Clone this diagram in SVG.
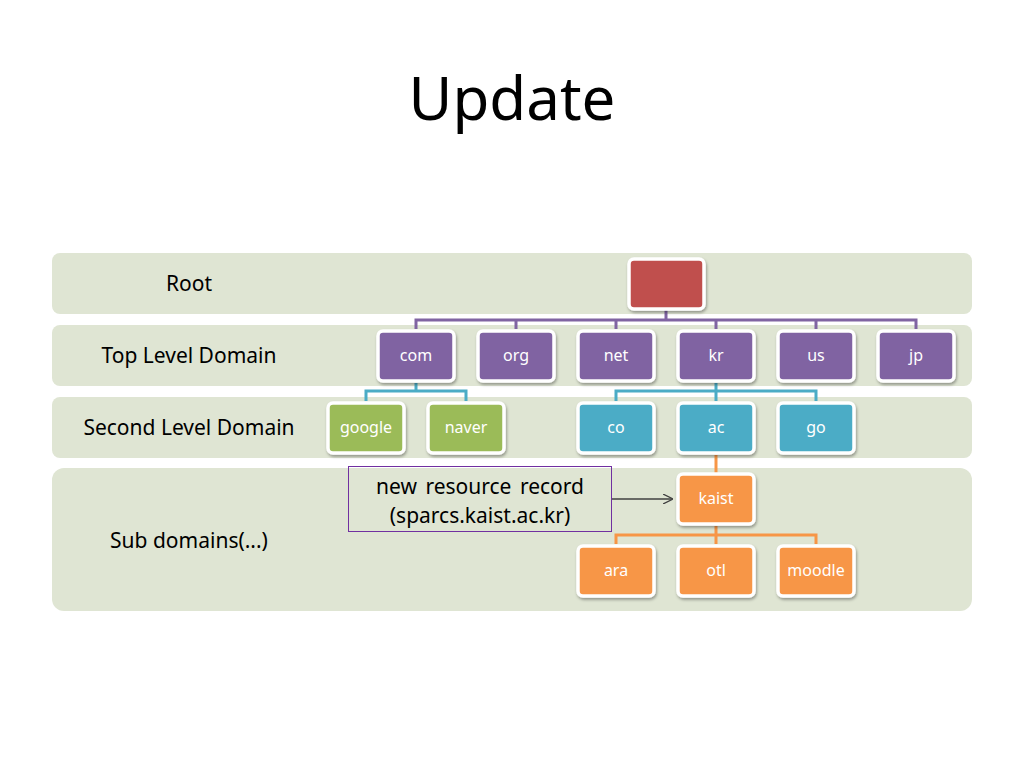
<svg xmlns="http://www.w3.org/2000/svg" width="1024" height="768" viewBox="0 0 1024 768">
<defs>
<filter id="sh" x="-20%" y="-20%" width="140%" height="150%">
<feDropShadow dx="1" dy="2" stdDeviation="1.5" flood-color="#000" flood-opacity="0.35"/>
</filter>
<marker id="arr" viewBox="0 0 10 10" refX="9" refY="5" markerWidth="10" markerHeight="10" markerUnits="userSpaceOnUse" orient="auto">
<path d="M0,0 L10,5 L0,10" fill="none" stroke="#404040" stroke-width="1.3"/>
</marker>
</defs>
<style>
.band{fill:#dfe5d3}
.lbl{font-family:"Noto Sans","Open Sans",sans-serif;font-size:21px;fill:#000;text-anchor:middle}
.node rect{stroke:#fff;stroke-width:3.5;filter:url(#sh)}
.node text{font-family:"Noto Sans","Open Sans",sans-serif;font-size:16px;fill:#fff;text-anchor:middle}
.p{fill:#8064a2}.g{fill:#9bbb59}.b{fill:#4bacc6}.o{fill:#f79646}.r{fill:#c0504d}
.cp{stroke:#8064a2;stroke-width:3;fill:none}
.cb{stroke:#4bacc6;stroke-width:3;fill:none}
.co{stroke:#f79646;stroke-width:3;fill:none}
</style>
<rect width="1024" height="768" fill="#fff"/>
<text x="512" y="120" font-family="Noto Sans,Open Sans,sans-serif" font-size="60" text-anchor="middle" fill="#000">Update</text>
<g id="bands">
<rect class="band" x="52" y="253" width="920" height="61" rx="8"/>
<rect class="band" x="52" y="325" width="920" height="61" rx="8"/>
<rect class="band" x="52" y="397" width="920" height="61" rx="8"/>
<rect class="band" x="52" y="468" width="920" height="143" rx="12"/>
<text class="lbl" x="189" y="291">Root</text>
<text class="lbl" x="189" y="363">Top Level Domain</text>
<text class="lbl" x="189" y="435">Second Level Domain</text>
<text class="lbl" x="189" y="548">Sub domains(...)</text>
</g>
<g id="connectors">
<path class="cp" d="M666,310 V320 M416,329 V320 H916 V329 M516,320 V329 M616,320 V329 M716,320 V329 M816,320 V329"/>
<path class="cb" d="M416,383 V391 M366,401 V391 H466 V401"/>
<path class="cb" d="M716,383 V391 M616,401 V391 H816 V401 M716,391 V401"/>
<path class="co" d="M716,455 V473"/>
<path class="co" d="M716,526 V535 M616,544 V535 H816 V544 M716,535 V544"/>
<line x1="611" y1="499" x2="672" y2="499" stroke="#404040" stroke-width="1.3" marker-end="url(#arr)"/>
</g>
<g id="root" class="node"><rect class="r" x="629" y="259" width="75" height="50" rx="5"/></g>
<g id="com" class="node"><rect class="p" x="378" y="331" width="76" height="50" rx="5"/><text x="416" y="361">com</text></g>
<g id="org" class="node"><rect class="p" x="478" y="331" width="76" height="50" rx="5"/><text x="516" y="361">org</text></g>
<g id="net" class="node"><rect class="p" x="578" y="331" width="76" height="50" rx="5"/><text x="616" y="361">net</text></g>
<g id="kr" class="node"><rect class="p" x="678" y="331" width="76" height="50" rx="5"/><text x="716" y="361">kr</text></g>
<g id="us" class="node"><rect class="p" x="778" y="331" width="76" height="50" rx="5"/><text x="816" y="361">us</text></g>
<g id="jp" class="node"><rect class="p" x="878" y="331" width="76" height="50" rx="5"/><text x="916" y="361">jp</text></g>
<g id="google" class="node"><rect class="g" x="328" y="403" width="76" height="50" rx="5"/><text x="366" y="433">google</text></g>
<g id="naver" class="node"><rect class="g" x="428" y="403" width="76" height="50" rx="5"/><text x="466" y="433">naver</text></g>
<g id="co" class="node"><rect class="b" x="578" y="403" width="76" height="50" rx="5"/><text x="616" y="433">co</text></g>
<g id="ac" class="node"><rect class="b" x="678" y="403" width="76" height="50" rx="5"/><text x="716" y="433">ac</text></g>
<g id="go" class="node"><rect class="b" x="778" y="403" width="76" height="50" rx="5"/><text x="816" y="433">go</text></g>
<g id="kaist" class="node"><rect class="o" x="678" y="474" width="76" height="50" rx="5"/><text x="716" y="504">kaist</text></g>
<g id="ara" class="node"><rect class="o" x="578" y="546" width="76" height="50" rx="5"/><text x="616" y="576">ara</text></g>
<g id="otl" class="node"><rect class="o" x="678" y="546" width="76" height="50" rx="5"/><text x="716" y="576">otl</text></g>
<g id="moodle" class="node"><rect class="o" x="778" y="546" width="76" height="50" rx="5"/><text x="816" y="576">moodle</text></g>
<g id="note">
<rect x="348.5" y="466.5" width="263" height="65" fill="none" stroke="#7030a0" stroke-width="1"/>
<text x="480" y="494" font-family="Noto Sans,Open Sans,sans-serif" font-size="21" text-anchor="middle" fill="#000" word-spacing="3">new resource record</text>
<text x="480" y="523" font-family="Noto Sans,Open Sans,sans-serif" font-size="21" text-anchor="middle" fill="#000">(sparcs.kaist.ac.kr)</text>
</g>
</svg>
